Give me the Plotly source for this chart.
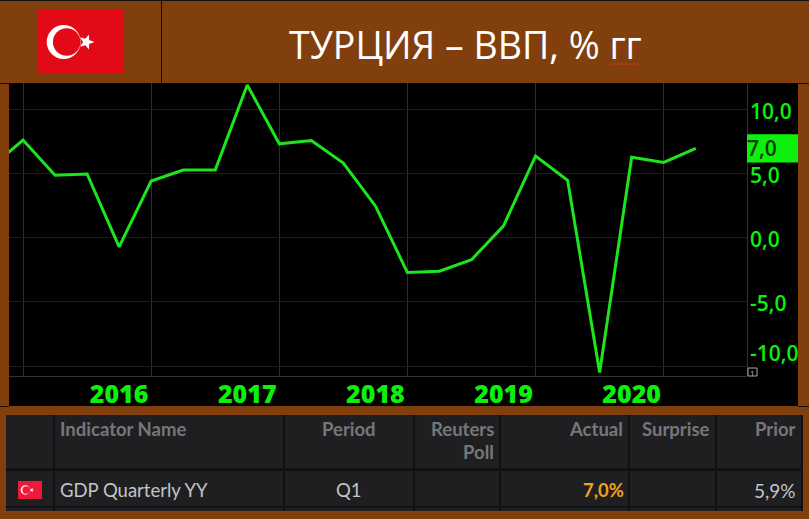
import math
import plotly.graph_objects as go

W, H = 809, 519
BROWN = "#823f0e"
GREEN = "#1de51d"
BRIGHT = "#0cf00c"

quarter_index = list(range(-1, 22))
gdp_yoy = [5.5, 7.65, 4.9, 5.0, -0.7, 4.45, 5.3, 5.3, 11.95, 7.35, 7.6, 5.85,
           2.5, -2.7, -2.6, -1.7, 0.95, 6.4, 4.5, -10.5, 6.3, 5.9, 7.0]
year_positions = [3, 7, 11, 15, 19]
year_labels = ["2016", "2017", "2018", "2019", "2020"]
year_grid = [0, 4, 8, 12, 16, 20]
y_ticks = [10, 5, 0, -5]
y_tick_labels = ["10,0", "5,0", "0,0", "-5,0"]
last_value = 7.0
title_text = "ТУРЦИЯ – ВВП, % гг"
table_headers = ["Indicator Name", "Period", "Reuters", "Poll", "Actual", "Surprise", "Prior"]
table_row = ["GDP Quarterly YY", "Q1", "", "7,0%", "", "5,9%"]


def px(x):
    return x / W


def py(y):
    return 1 - y / H


def rect(x0, y0, x1, y1, color, layer="below"):
    return dict(type="rect", xref="paper", yref="paper", x0=px(x0), x1=px(x1),
                y0=py(y0), y1=py(y1), fillcolor=color, line_width=0, layer=layer)


def circle(cx, cy, r, color):
    return dict(type="circle", xref="paper", yref="paper", x0=px(cx - r), x1=px(cx + r),
                y0=py(cy - r), y1=py(cy + r), fillcolor=color, line_width=0, layer="above")


def star(cx, cy, r, color):
    pts = []
    for i in range(10):
        a = math.radians(i * 36)
        rr = r if i % 2 == 0 else r * 0.42
        pts.append((px(cx + rr * math.cos(a)), py(cy + rr * math.sin(a))))
    path = "M" + " L".join(f"{a:.5f},{b:.5f}" for a, b in pts) + " Z"
    return dict(type="path", xref="paper", yref="paper", path=path, fillcolor=color,
                line_width=0, layer="above")


def flag(x0, y0, x1, y1, red):
    w = x1 - x0
    h = y1 - y0
    cy = (y0 + y1) / 2
    return [
        rect(x0, y0, x1, y1, red, "above"),
        circle(x0 + w * 0.31, cy, h * 0.265, "#ffffff"),
        circle(x0 + w * 0.345, cy, h * 0.215, red),
        star(x0 + w * 0.575, cy, h * 0.125, "#ffffff"),
    ]


shapes = [
    rect(0, 0, W, H, BROWN),
    rect(0, 0, W, 1, "#111111"),
    rect(161, 0, 162, 83, "#1a0d02"),
    rect(0, 83, W, 84, "#111111"),
    rect(9, 83, 798, 406, "#000000"),
    rect(0, 406, 9, 407, "#1a0d02"),
    rect(798, 406, W, 407, "#1a0d02"),
    rect(6, 415, 802, 511, "#1f1f22"),
]
shapes += [rect(6, 468, 802, 471, "#111113"), rect(6, 506, 802, 508, "#111113")]
for sep in [53, 283, 413, 499, 628, 715, 801]:
    shapes.append(rect(sep, 415, sep + 2, 511, "#111113"))
shapes += flag(37, 10, 123, 74, "#e30a17")
shapes += flag(18, 481, 42, 499, "#ef1a3a")
# right value axis line, latest value box and small corner marker
shapes.append(rect(747, 84, 748, 376, "#333333", "above"))
shapes.append(dict(type="rect", xref="paper", yref="y", x0=px(747), x1=px(798),
                   y0=last_value - 1.1, y1=last_value + 1.1, fillcolor=BRIGHT,
                   line_width=0, layer="above"))
shapes.append(dict(type="rect", xref="paper", yref="paper", x0=px(748), x1=px(757),
                   y0=py(376), y1=py(368), line=dict(color="#aaaaaa", width=1),
                   fillcolor="#000000", layer="above"))
squiggle = "M" + " L".join(
    f"{px(610 + i * 2):.5f},{py(63 + (i % 2) * 2):.5f}" for i in range(15))
shapes.append(dict(type="path", xref="paper", yref="paper", path=squiggle,
                   line=dict(color="#c8352a", width=1), layer="above"))

annotations = []


def label(x, y, text, size, color, anchor="left", weight=400, family="Open Sans"):
    annotations.append(dict(xref="paper", yref="paper", x=px(x), y=py(y), text=text,
                            showarrow=False, xanchor=anchor, yanchor="middle",
                            font=dict(size=size, color=color, family=family, weight=weight)))


label(465, 44, title_text, 37.5, "#ffffff", "center")
# y tick labels
for v, t in zip(y_ticks, y_tick_labels):
    annotations.append(dict(xref="paper", yref="y", x=px(748), y=v, text=t, showarrow=False,
                            xanchor="left", yanchor="middle", yshift=-1,
                            font=dict(size=21, color=BRIGHT, family="Open Sans", weight=600)))
annotations.append(dict(xref="paper", yref="y", x=px(748), y=-10, text="-10,0", showarrow=False,
                        xanchor="left", yanchor="middle", yshift=13,
                        font=dict(size=21, color=BRIGHT, family="Open Sans", weight=600)))
annotations.append(dict(xref="paper", yref="y", x=px(745), y=last_value, text="7,0", showarrow=False,
                        xanchor="left", yanchor="middle",
                        font=dict(size=21, color="#063a06", family="Open Sans", weight=600)))
label(752.5, 372, "1", 8, "#bbbbbb", "center")

HEAD = "#77777a"
CELL = "#c4c4c6"
FONT = "Lato"
label(58, 429, table_headers[0], 18.5, HEAD, "left", 700, FONT)
label(349, 429, table_headers[1], 18.5, HEAD, "center", 700, FONT)
label(496, 429, table_headers[2], 18.5, HEAD, "right", 700, FONT)
label(496, 452, table_headers[3], 18.5, HEAD, "right", 700, FONT)
label(625, 429, table_headers[4], 18.5, HEAD, "right", 700, FONT)
label(712, 429, table_headers[5], 18.5, HEAD, "right", 700, FONT)
label(798, 429, table_headers[6], 18.5, HEAD, "right", 700, FONT)
label(58, 490, table_row[0], 18.5, CELL, "left", 400, FONT)
label(349, 490, table_row[1], 18.5, CELL, "center", 400, FONT)
label(626, 490, table_row[3], 18.5, "#f0a020", "right", 700, FONT)
label(798, 490, table_row[5], 19, CELL, "right", 400, FONT)

fig = go.Figure(go.Scatter(x=quarter_index, y=gdp_yoy, mode="lines",
                           line=dict(color=GREEN, width=3), hoverinfo="skip"))
fig.update_layout(
    width=W, height=H, autosize=False, margin=dict(l=0, r=0, t=0, b=0),
    paper_bgcolor=BROWN, plot_bgcolor="#000000", showlegend=False,
    shapes=shapes, annotations=annotations,
    xaxis=dict(domain=[px(9), px(747)], range=[-0.4375, 22.6], tickmode="array",
               tickvals=year_positions, ticktext=year_labels, showgrid=False, zeroline=False,
               ticks="", showline=True, linecolor="#333333", linewidth=1, ticklabelstandoff=-4,
               tickfont=dict(size=25, color=BRIGHT, family="Open Sans", weight=800),
               minor=dict(tickmode="array", tickvals=year_grid, showgrid=True,
                          gridcolor="#2e2e2e", gridwidth=1)),
    yaxis=dict(domain=[py(376), py(83)], range=[-10.78, 12.1], side="right", tickmode="array",
               tickvals=y_ticks + [-10], ticktext=["", "", "", "", ""], showgrid=True,
               gridcolor="#1e1e1e", gridwidth=1, zeroline=False, ticks="", showline=False),
)
fig.write_html("out.html", config={"displayModeBar": False},
               post_script="document.body.style.margin='0';document.documentElement.style.overflow='hidden';")
